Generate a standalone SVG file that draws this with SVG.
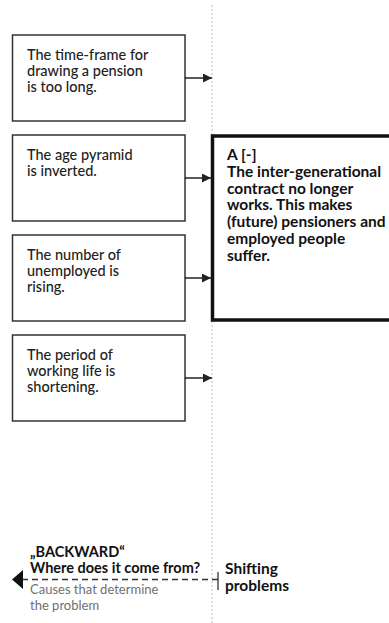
<svg xmlns="http://www.w3.org/2000/svg" width="389" height="623" viewBox="0 0 389 623">
<style>
.box{fill:#fff;stroke:#333;stroke-width:1.5}
.t{font-family:Lato,"Noto Sans","Liberation Sans",sans-serif;font-size:14.5px;fill:#222;font-weight:500}
.b{font-family:Lato,"Noto Sans","Liberation Sans",sans-serif;font-size:15.5px;fill:#111;font-weight:bold}
.bs{font-family:Lato,"Noto Sans","Liberation Sans",sans-serif;font-size:14.5px;fill:#111;font-weight:bold}
.g{font-family:Lato,"Noto Sans","Liberation Sans",sans-serif;font-size:13px;fill:#707070}
.conn{stroke:#222;stroke-width:1.5;fill:none}
</style>
<defs>
<marker id="ah" viewBox="0 0 10 10" refX="10" refY="5" markerWidth="9" markerHeight="9" markerUnits="userSpaceOnUse" orient="auto">
<path d="M0,0 L10,5 L0,10 Z" fill="#222"/>
</marker>
</defs>
<rect width="389" height="623" fill="#fff"/>
<line x1="212" y1="5" x2="212" y2="623" stroke="#bbb" stroke-width="1" stroke-dasharray="2,2"/>
<g id="n1"><rect class="box" x="12.5" y="35" width="172.5" height="86"/>
<text class="t" x="27" y="60">The time-frame for</text><text class="t" x="27" y="76">drawing a pension</text><text class="t" x="27" y="92">is too long.</text></g>
<g id="n2"><rect class="box" x="12.5" y="135" width="172.5" height="86"/>
<text class="t" x="27" y="160">The age pyramid</text><text class="t" x="27" y="176">is inverted.</text></g>
<g id="n3"><rect class="box" x="12.5" y="235" width="172.5" height="86"/>
<text class="t" x="27" y="260">The number of</text><text class="t" x="27" y="276">unemployed is</text><text class="t" x="27" y="292">rising.</text></g>
<g id="n4"><rect class="box" x="12.5" y="335" width="172.5" height="86"/>
<text class="t" x="27" y="360">The period of</text><text class="t" x="27" y="376">working life is</text><text class="t" x="27" y="392">shortening.</text></g>
<g id="a"><rect x="212.5" y="136" width="190" height="184" fill="#fff" stroke="#111" stroke-width="3.5"/>
<text class="b" x="227" y="160">A [-]</text>
<text class="b" x="227" y="177">The inter-generational</text>
<text class="b" x="227" y="193.5">contract no longer</text>
<text class="b" x="227" y="210">works. This makes</text>
<text class="b" x="227" y="227">(future) pensioners and</text>
<text class="b" x="227" y="244">employed people</text>
<text class="b" x="227" y="260.5">suffer.</text></g>
<g id="connectors">
<line class="conn" x1="185" y1="78" x2="212" y2="78" marker-end="url(#ah)"/>
<line class="conn" x1="185" y1="178" x2="211" y2="178" marker-end="url(#ah)"/>
<line class="conn" x1="185" y1="278" x2="211" y2="278" marker-end="url(#ah)"/>
<line class="conn" x1="185" y1="378" x2="212" y2="378" marker-end="url(#ah)"/>
</g>
<g id="legend">
<line x1="22" y1="579.5" x2="218" y2="579.5" stroke="#333" stroke-width="1.5" stroke-dasharray="6,4"/>
<path d="M12,579.5 L23,570 L23,589 Z" fill="#111"/>
<line x1="218" y1="572" x2="218" y2="590" stroke="#333" stroke-width="1.3"/>
<text class="bs" x="30" y="557">„BACKWARD“</text>
<text class="bs" x="30" y="573">Where does it come from?</text>
<text class="g" x="30" y="594">Causes that determine</text>
<text class="g" x="30" y="609.5">the problem</text>
<text class="b" x="225" y="574">Shifting</text>
<text class="b" x="225" y="591">problems</text>
</g>
</svg>
